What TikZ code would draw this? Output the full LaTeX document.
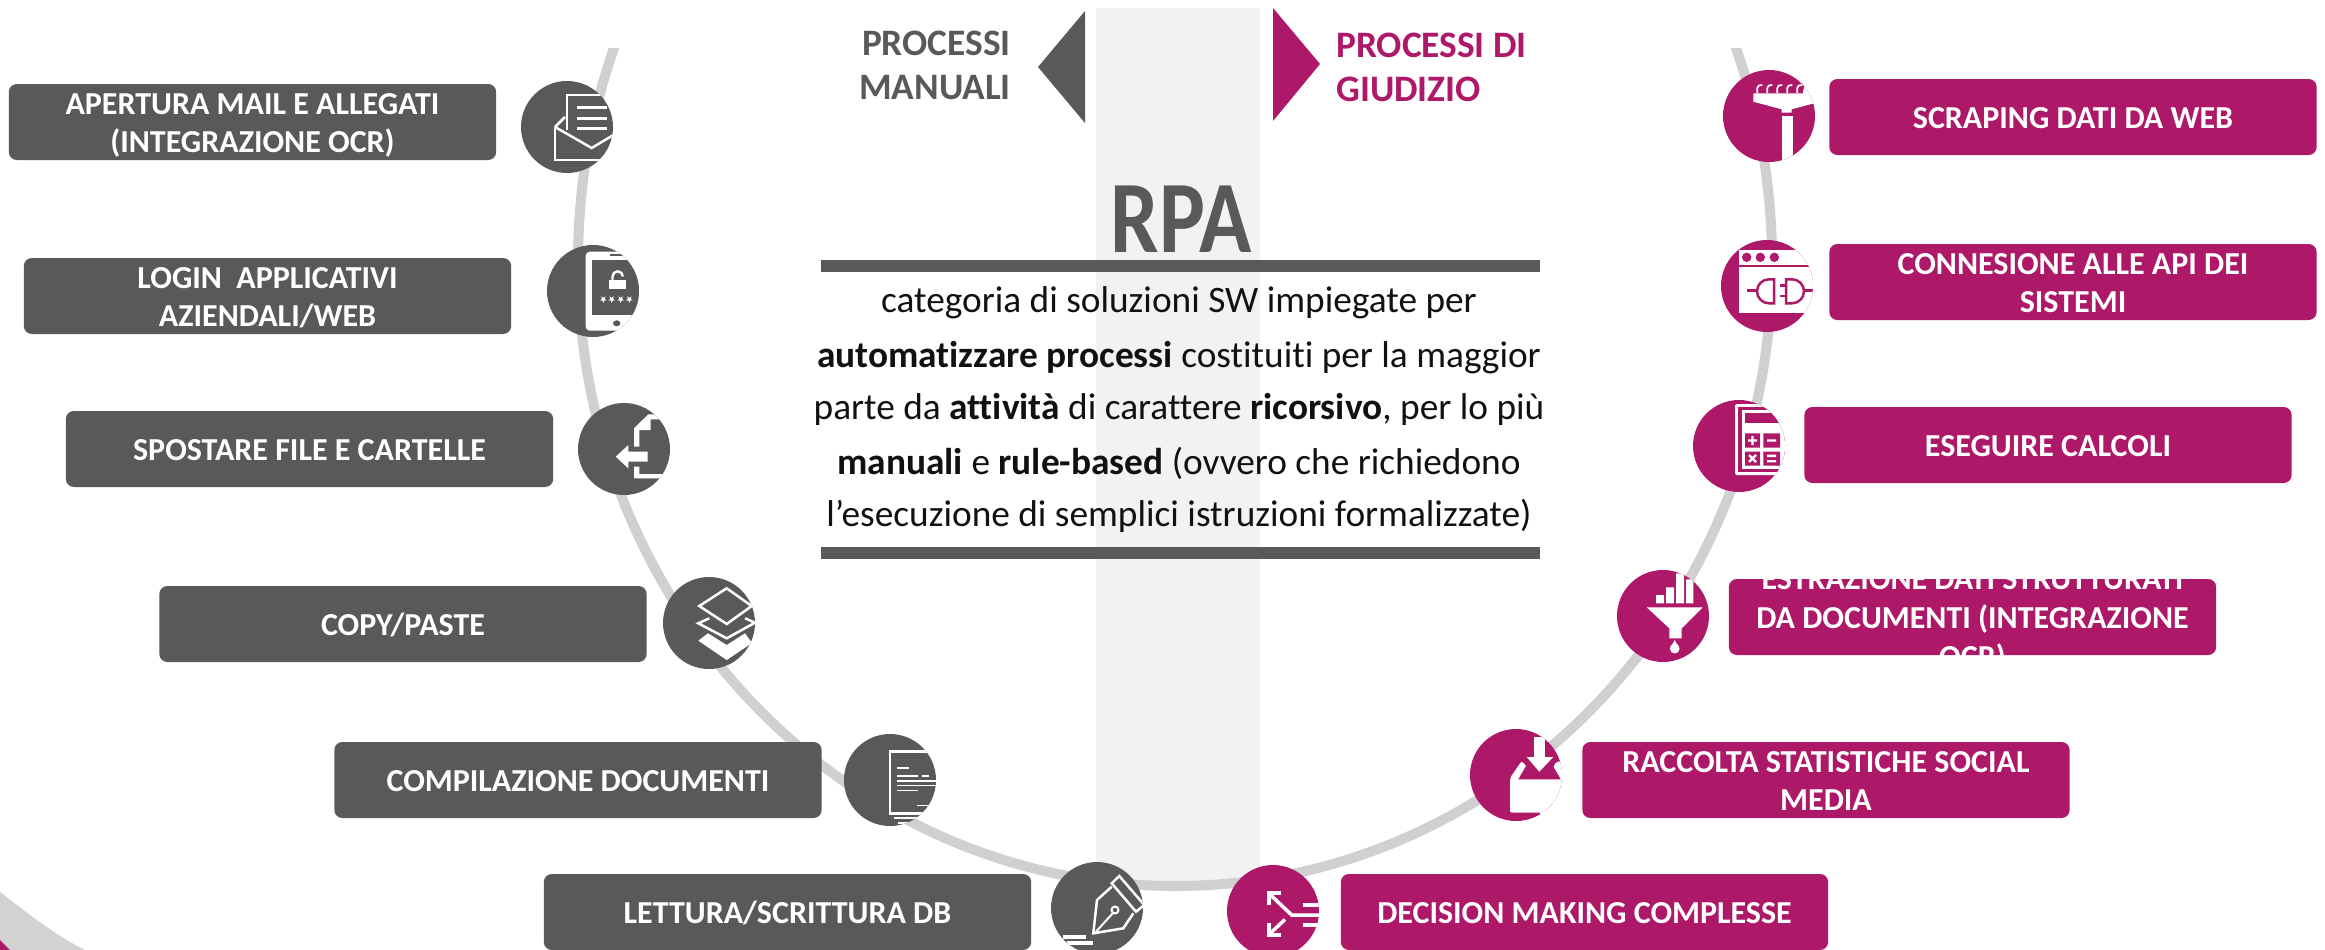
\documentclass[tikz,border=0pt]{standalone}
\usepackage{fontspec}
\setmainfont[Ligatures=NoCommon]{Carlito}
\definecolor{grigio}{HTML}{595959}
\definecolor{magen}{HTML}{AD1869}
\definecolor{striscia}{HTML}{F2F2F2}
\definecolor{arco}{HTML}{D0D0D0}
\definecolor{testo}{HTML}{111111}
\tikzset{
  cardbox/.style={fill=#1,rounded corners=6pt,minimum width=365.5pt,minimum height=57pt,inner sep=0pt,text=white,
    font=\fontsize{24pt}{29pt}\selectfont\bfseries,align=center,
    execute at begin node={\rule[-5pt]{0pt}{27pt}},execute at end node={\rule[-5pt]{0pt}{5pt}}},
  medal/.style={circle,fill=#1,minimum size=69pt,inner sep=0pt},
  hdr/.style={font=\fontsize{28pt}{33pt}\selectfont\bfseries,inner sep=0pt},
  bodyline/.style={font=\fontsize{28pt}{32pt}\selectfont,text=testo,inner sep=0pt,anchor=base},
  wl/.style={draw=white,line width=#1*0.75pt},
  wl/.default=2.5,
  ml/.style={draw=magen,line width=#1*0.75pt},
  ml/.default=2.5
}
\newcommand{\medalclip}[2]{\clip (#1,#2) circle [x radius=46,y radius=46];}
\newcommand{\toplift}{\rule{0pt}{22pt}}
\begin{document}
\begin{tikzpicture}[x=0.75pt,y=-0.75pt]
\useasboundingbox (0,0) rectangle (2325,950);
% bottom-left corner fragments
\fill[arco!95!white] (0,892) .. controls (30,915) and (55,935) .. (85,950) -- (0,950) -- cycle;
\fill[magen] (0,940) -- (10,950) -- (0,950) -- cycle;
% central strip, bounded below by the arc
\begin{scope}
  \clip (1175,262) ellipse [x radius=597,y radius=624];
  \fill[striscia] (1096,8) rectangle (1260,950);
\end{scope}
% arc
\begin{scope}
  \clip (0,48) rectangle (2325,950);
  \draw[arco,line width=7.5pt] (1175,262) ellipse [x radius=597,y radius=624];
\end{scope}
% triangles
\fill[grigio] (1038,67) -- (1085,11) -- (1085,123) -- cycle;
\fill[magen] (1320,64) -- (1273,8) -- (1273,121) -- cycle;
% headings
\node[hdr,text=grigio,align=right,anchor=east] (hl) at (1011,65) {PROCESSI\\MANUALI};
\node[hdr,text=magen,align=left,anchor=west] (hr) at (1336,67.5) {PROCESSI DI\\GIUDIZIO};
\node[text=grigio,inner sep=0pt,anchor=base,xscale=0.84] (rpa) at (1181,252) {\fontsize{77pt}{80pt}\selectfont\bfseries RPA};
% bars
\fill[grigio] (821,260) rectangle (1540,272);
\fill[grigio] (821,547) rectangle (1540,559);
% body text
\node[bodyline] (t1) at (1179,312) {categoria di soluzioni SW impiegate per};
\node[bodyline] (t2) at (1179,367) {\textbf{automatizzare processi} costituiti per la maggior};
\node[bodyline] (t3) at (1179,419) {parte da \textbf{attività} di carattere \textbf{ricorsivo}, per lo più};
\node[bodyline] (t4) at (1179,474) {\textbf{manuali} e \textbf{rule-based} (ovvero che richiedono};
\node[bodyline] (t5) at (1179,526) {l’esecuzione di semplici istruzioni formalizzate)};
% left boxes
\node[cardbox=grigio] (a1) at (252.5,122) {\toplift APERTURA MAIL E ALLEGATI\\(INTEGRAZIONE OCR)};
\node[cardbox=grigio] (a2) at (267.5,296) {\toplift LOGIN\ \ APPLICATIVI\\AZIENDALI/WEB};
\node[cardbox=grigio] (a3) at (309.5,449) {SPOSTARE FILE E CARTELLE};
\node[cardbox=grigio] (a4) at (403,624) {COPY/PASTE};
\node[cardbox=grigio] (a5) at (578,780) {COMPILAZIONE DOCUMENTI};
\node[cardbox=grigio] (a6) at (787.5,912) {LETTURA/SCRITTURA DB};
% right boxes
\node[cardbox=magen] (b1) at (2073,117) {SCRAPING DATI DA WEB};
\node[cardbox=magen] (b2) at (2073,282) {\toplift CONNESIONE ALLE API DEI\\SISTEMI};
\node[cardbox=magen] (b3) at (2048,445) {ESEGUIRE CALCOLI};
\node[cardbox=magen] (b4) at (1972.5,617) {};
\begin{scope}
  \clip (1729,579) rectangle (2216,655);
  \node[cardbox=magen,fill=none] (b4t) at (1972.5,617) {\toplift ESTRAZIONE DATI STRUTTURATI\\DA DOCUMENTI (INTEGRAZIONE\\OCR)};
\end{scope}
\node[cardbox=magen] (b5) at (1826,780) {\toplift RACCOLTA STATISTICHE SOCIAL\\MEDIA};
\node[cardbox=magen] (b6) at (1584.5,912) {DECISION MAKING COMPLESSE};
% medals
\node[medal=grigio] (c1) at (567,127) {};
\node[medal=grigio] (c2) at (593,291) {};
\node[medal=grigio] (c3) at (624,449) {};
\node[medal=grigio] (c4) at (709,623) {};
\node[medal=grigio] (c5) at (890,780) {};
\node[medal=grigio] (c6) at (1097,908) {};
\node[medal=magen] (d1) at (1769,116) {};
\node[medal=magen] (d2) at (1767,286) {};
\node[medal=magen] (d3) at (1739,446) {};
\node[medal=magen] (d4) at (1663,616) {};
\node[medal=magen] (d5) at (1516,775) {};
\node[medal=magen] (d6) at (1273,911) {};
% ---- icons ----
% envelope
\begin{scope}
  \medalclip{567}{127}
  \draw[wl] (567,130) -- (567,95) -- (620,95);
  \draw[wl] (555,127) -- (565,117);
  \draw[wl] (555,127) -- (555,160) -- (620,160);
  \draw[wl] (555,127) -- (591.7,148) -- (620,131);
  \draw[wl] (577,107.3) -- (607,107.3) (577,118.3) -- (607,118.3) (577,128.3) -- (607,128.3);
\end{scope}
% phone
\begin{scope}
  \medalclip{593}{291}
  \fill[white,rounded corners=3pt] (585.7,251.7) rectangle (660,330.7);
  \fill[grigio] (592.3,260) rectangle (660,315);
  \draw[grigio,line width=1.5pt] (610,254.5) -- (640,254.5);
  \fill[grigio] (616.7,323.3) ellipse [x radius=3.7,y radius=3];
  \fill[white] (609,280) rectangle (625.7,289);
  \draw[white,line width=1.8pt] (612.5,281) -- (612.5,276.5) arc (180:360:5.2);
  \foreach \sx in {603.3,611.7,620.7,629.3}{
    \fill[white] ([shift={(\sx,299.3)}]90:3.6) \foreach \k in {1,...,9}{ -- ([shift={(\sx,299.3)}]{90+36*\k}:{3.6-2.1*mod(\k,2)})} -- cycle;
  }
\end{scope}
% move file
\begin{scope}
  \medalclip{624}{449}
  \fill[white] (634,446.7) -- (634,428.3) -- (648.3,414.3) -- (680,414.3) -- (680,419.3) -- (650.7,419.3) -- (650.7,430) -- (639.3,430) -- (639.3,446.7) -- cycle;
  \fill[white] (634,466.7) -- (634,478.3) -- (680,478.3) -- (680,474) -- (639.3,474) -- (639.3,466.7) -- cycle;
  \fill[white] (615.7,456.7) -- (628.3,445) -- (628.3,451.7) -- (647.7,451.7) -- (647.7,461.7) -- (628.3,461.7) -- (628.3,468.3) -- cycle;
\end{scope}
% layers
\begin{scope}
  \medalclip{709}{623}
  \draw[wl] (726.7,588.3) -- (751.7,606) -- (726.7,624) -- (699.3,606) -- cycle;
  \draw[wl] (709.3,618.3) -- (698.3,623.3) -- (726.7,638.3) -- (755,622.7) -- (745,618.3);
  \fill[white] (698.3,640.7) -- (708,633.3) -- (726.7,645) -- (745,633.3) -- (752,643) -- (726.7,660) -- cycle;
\end{scope}
% document
\begin{scope}
  \medalclip{890}{780}
  \draw[wl] (940,751.7) -- (890,751.7) -- (890,813.3) -- (940,813.3);
  \draw[wl=1.5] (897.3,768) -- (909.3,768) (897.3,776) -- (918,776) (922,776) -- (929,776)
    (897.3,781) -- (940,781) (897.3,785.7) -- (940,785.7) (897.3,790.3) -- (918,790.3) (916.7,805.7) -- (940,805.7);
  \draw[wl=2] (894,818.3) -- (925,818.3) (898,823.3) -- (930,823.3);
\end{scope}
% pen
\begin{scope}
  \medalclip{1097}{908}
  \draw[wl] (1111.7,883.3) -- (1119.3,876) -- (1144.3,905) -- (1136,911.7) -- cycle;
  \draw[wl] (1111.7,886.7) -- (1097,900) -- (1093.3,933.3) -- (1123.3,928.3) -- (1133.3,913.3);
  \draw[wl=2] (1096,931.7) -- (1113,913);
  \draw[wl=2] (1115,910) circle [radius=3.5];
  \draw[wl=4] (1063.3,936.7) -- (1086,936.7) (1067.3,942.7) -- (1093.3,942.7);
\end{scope}
% rake
\begin{scope}
  \medalclip{1769}{116}
  \fill[white] (1753.3,93.3) -- (1815,93.3) -- (1815,103) -- (1791.7,109.3) -- (1791.7,112.7) -- (1781.7,112.7) -- (1781.7,109.3) -- (1753.3,101.7) -- cycle;
  \fill[white] (1781.7,116) rectangle (1792.7,170);
  \foreach \tx in {1757.3,1767.3,1777.3,1787.3,1797.3}{
    \draw[wl=1.7] (\tx,93) -- (\tx,88) .. controls (\tx,85.5) and (\tx+2,85) .. (\tx+5,85);
  }
  \fill[white] (1805,85) -- (1815,85) -- (1815,94) -- (1803,94) .. controls (1803,90) and (1804,87) .. (1805,85) -- cycle;
\end{scope}
% plug
\begin{scope}
  \medalclip{1767}{286}
  \fill[white] (1739,250) rectangle (1815,313.3);
  \draw[ml] (1739,266) -- (1815,266);
  \fill[magen] (1746.7,257.3) circle [radius=4.7] (1760.3,257.3) circle [radius=4.7] (1774.3,257.3) circle [radius=4.7];
  \draw[ml] (1746.7,290.7) -- (1757.3,290.7);
  \draw[ml] (1774,279.3) -- (1774,303.3) -- (1769,303.3) arc (90:270:12) -- cycle;
  \draw[ml] (1786,303.3) -- (1786,279.3) -- (1792,279.3) arc (-90:90:12) -- cycle;
  \draw[ml] (1780,285.3) -- (1786,285.3) (1780,296) -- (1786,296) (1804,290.7) -- (1813.3,290.7);
\end{scope}
% calculator
\begin{scope}
  \medalclip{1739}{446}
  \fill[white,rounded corners=1.5pt] (1735,404) rectangle (1790,475);
  \fill[magen] (1737.7,406.7) rectangle (1790,472.3);
  \fill[white] (1741.7,410) rectangle (1790,469);
  \fill[magen] (1745,413.3) rectangle (1780,423.3);
  \fill[magen] (1745,433.3) rectangle (1760,447.7) (1763.3,433.3) rectangle (1780,447.7)
    (1745,451.7) rectangle (1760,465.7) (1763.3,451.7) rectangle (1780,465.7);
  \draw[wl=2.4] (1748,440.5) -- (1757,440.5) (1752.5,436) -- (1752.5,445) (1767,440.5) -- (1776,440.5)
    (1749,455) -- (1756,462) (1756,455) -- (1749,462) (1767,455.8) -- (1776,455.8) (1767,461.2) -- (1776,461.2);
\end{scope}
% funnel
\begin{scope}
  \medalclip{1663}{616}
  \fill[white] (1656,595) rectangle (1664,603.3) (1666,587.3) rectangle (1674,603.3) (1676,573.3) rectangle (1684,603.3) (1686,579.3) rectangle (1693.3,603.3);
  \fill[white] (1646.7,607.3) -- (1702.7,607.3) -- (1681.7,628.3) -- (1681.7,638.3) -- (1669.3,638.3) -- (1669.3,628.3) -- cycle;
  \fill[white] (1674.7,640) .. controls (1676,644) and (1679.5,645.5) .. (1679.5,648.7) arc (0:180:4.8) .. controls (1669.9,645.5) and (1673.4,644) .. (1674.7,640) -- cycle;
\end{scope}
% download
\begin{scope}
  \medalclip{1516}{775}
  \fill[white,rounded corners=1.5pt] (1510,812.7) -- (1510,778) -- (1521.7,761) -- (1534,775) -- (1550,775) -- (1556,761.7) -- (1575,761) -- (1575,812.7) -- cycle;
  \fill[white] (1540,812) -- (1575,812) -- (1575,830) -- (1540,830) -- cycle;
  \fill[magen] (1518.3,779.3) -- (1560.7,779.3) -- (1553,766) -- (1539,772) -- (1526,766) -- cycle;
  \fill[white] (1534,736.7) rectangle (1545,757);
  \fill[white] (1526.7,757) -- (1553.3,757) -- (1539.3,771.7) -- cycle;
\end{scope}
% decision
\begin{scope}
  \medalclip{1273}{911}
  \draw[wl=4.2] (1280.5,892.7) -- (1268.7,892.7) -- (1268.7,905);
  \draw[wl=4.2] (1280.5,935) -- (1268.7,935) -- (1268.7,922.5);
  \draw[wl=3.5] (1270,894.5) -- (1291.7,915) -- (1320,915);
  \draw[wl=3.5] (1270,933.5) -- (1285,919.5);
  \draw[wl=4] (1303,905) -- (1320,905) (1303,925) -- (1320,925);
\end{scope}
\end{tikzpicture}
\end{document}
